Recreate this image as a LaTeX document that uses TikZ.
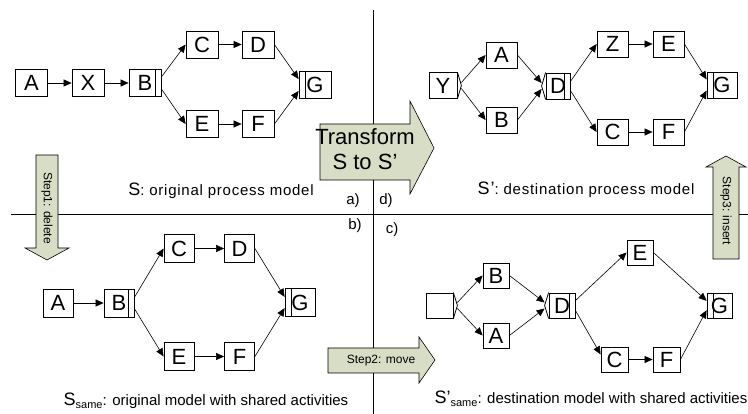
\documentclass[tikz,border=0pt]{standalone}
\usepackage{fontspec}
\setmainfont{Liberation Sans}
\usetikzlibrary{arrows.meta,calc}
\definecolor{stepgreen}{RGB}{216,221,198}

\begin{document}
\begin{tikzpicture}[x=1pt,y=-1pt,
    act/.style={draw,line width=.8pt,minimum width=32pt,minimum height=27pt,inner sep=0pt,font=\fontsize{22}{22}\selectfont},
    andsplit/.style={path picture={\draw[line width=.8pt] ([xshift=-6pt]path picture bounding box.north east) -- ([xshift=-6pt]path picture bounding box.south east);}},
    andjoin/.style={path picture={\draw[line width=.8pt] ([xshift=6pt]path picture bounding box.north west) -- ([xshift=6pt]path picture bounding box.south west);}},
    xorline/.style={line width=.8pt},
    flow/.style={line width=.6pt,-{Triangle[length=8pt,width=7pt]}},
    bigarrow/.style={draw,line width=.6pt,fill=stepgreen},
    caption/.style={font=\fontsize{15}{15}\selectfont},
    spaced/.style={font=\fontsize{15}{15}\selectfont\addfontfeature{LetterSpace=5}},
    steptext/.style={font=\fontsize{12}{12}\selectfont}]
  \useasboundingbox (0,0) rectangle (748,414);
  % quadrants
  \draw[line width=.8pt] (373,10) -- (373,414);
  \draw[line width=.8pt] (11,214) -- (748,214);

  % a) original process model
  \node[act] (a-A) at (31.5,83) {A};
  \node[act] (a-X) at (88,83) {X};
  \node[act,andsplit] (a-B) at (145,83) {B};
  \node[act] (a-C) at (202,44.5) {C};
  \node[act] (a-D) at (258,44.5) {D};
  \node[act] (a-E) at (202,124) {E};
  \node[act] (a-F) at (258,124) {F};
  \node[act,andjoin] (a-G) at (315,85) {G};
  \draw[flow] (a-A) -- (a-X);
  \draw[flow] (a-X) -- (a-B);
  \draw[flow] (a-B.20) -- (a-C.west);
  \draw[flow] (a-B.-20) -- (a-E.west);
  \draw[flow] (a-C) -- (a-D);
  \draw[flow] (a-E) -- (a-F);
  \draw[flow] (a-D.east) -- (a-G.160);
  \draw[flow] (a-F.east) -- (a-G.-160);

  % b) shared activities of S
  \begin{scope}[act/.append style={minimum width=30pt,minimum height=28pt}]
    \node[act] (b-A) at (58,303) {A};
    \node[act,andsplit] (b-B) at (119,303) {B};
    \node[act] (b-C) at (179,248.5) {C};
    \node[act] (b-D) at (239.5,248.5) {D};
    \node[act] (b-E) at (179,356.5) {E};
    \node[act] (b-F) at (239.5,356.5) {F};
    \node[act,andjoin] (b-G) at (300,302.5) {G};
  \end{scope}
  \draw[flow] (b-A) -- (b-B);
  \draw[flow] (b-B.20) -- (b-C.west);
  \draw[flow] (b-B.-20) -- (b-E.west);
  \draw[flow] (b-C) -- (b-D);
  \draw[flow] (b-E) -- (b-F);
  \draw[flow] (b-D.east) -- (b-G.160);
  \draw[flow] (b-F.east) -- (b-G.-160);

  % d) destination process model
  \begin{scope}[act/.append style={minimum width=31pt,minimum height=26pt}]
    \node[act,minimum width=28pt] (d-Y) at (443,85.5) {Y};
    \node[act] (d-A) at (501.5,55) {A};
    \node[act] (d-B) at (501.5,120) {B};
    \node[act,andsplit,minimum width=24pt] (d-D) at (558,86) {D};
    \node[act] (d-Z) at (612.5,44) {Z};
    \node[act] (d-E) at (668.5,44) {E};
    \node[act] (d-C) at (612.5,132) {C};
    \node[act] (d-F) at (668.5,132) {F};
    \node[act,andjoin,minimum width=30pt] (d-G) at (722,85) {G};
  \end{scope}
  \draw[xorline] (d-Y.north east) -- ([xshift=4pt]d-Y.east) coordinate (d-Yx) -- (d-Y.south east);
  \draw[xorline] (d-D.north west) -- ([xshift=-4pt]d-D.west) coordinate (d-Dx) -- (d-D.south west);
  \draw[flow] ($(d-Yx)+(0,-3)$) -- (d-A.west);
  \draw[flow] ($(d-Yx)+(0,3)$) -- (d-B.west);
  \draw[flow] (d-A.east) -- ($(d-Dx)+(0,-3)$);
  \draw[flow] (d-B.east) -- ($(d-Dx)+(0,3)$);
  \draw[flow] (d-D.20) -- (d-Z.west);
  \draw[flow] (d-D.-20) -- (d-C.west);
  \draw[flow] (d-Z) -- (d-E);
  \draw[flow] (d-C) -- (d-F);
  \draw[flow] (d-E.east) -- (d-G.160);
  \draw[flow] (d-F.east) -- (d-G.-160);

  % c) shared activities of S'
  \begin{scope}[act/.append style={minimum width=26pt,minimum height=25pt}]
    \node[act,minimum width=27pt] (c-S) at (439.5,305.5) {};
    \node[act] (c-B) at (496,275.5) {B};
    \node[act] (c-A) at (496,335.5) {A};
    \node[act,andsplit] (c-D) at (562,305.5) {D};
    \node[act] (c-E) at (640,252.5) {E};
    \node[act,minimum width=27pt] (c-C) at (614.5,359.5) {C};
    \node[act,minimum width=27pt] (c-F) at (666.5,359.5) {F};
    \node[act,andjoin,minimum width=25pt] (c-G) at (719.5,305.5) {G};
  \end{scope}
  \draw[xorline] (c-S.north east) -- ([xshift=4pt]c-S.east) coordinate (c-Sx) -- (c-S.south east);
  \draw[xorline] (c-D.north west) -- ([xshift=-4pt]c-D.west) coordinate (c-Dx) -- (c-D.south west);
  \draw[flow] ($(c-Sx)+(0,-3)$) -- (c-B.west);
  \draw[flow] ($(c-Sx)+(0,3)$) -- (c-A.west);
  \draw[flow] (c-B.east) -- ($(c-Dx)+(0,-3)$);
  \draw[flow] (c-A.east) -- ($(c-Dx)+(0,3)$);
  \draw[flow] (c-D.20) -- (c-E.west);
  \draw[flow] (c-D.-20) -- (c-C.160);
  \draw[flow] (c-C) -- (c-F);
  \draw[flow] (c-E.east) -- (c-G.160);
  \draw[flow] (c-F.east) -- (c-G.-160);

  % big arrows
  \draw[bigarrow] (320,124) -- (410,124) -- (410,101) -- (434,148) -- (410,194) -- (410,180) -- (320,180) -- cycle;
  \node[align=center,font=\fontsize{22}{25}\selectfont] (transform) at (365,149) {Transform\\S to S’};
  \draw[bigarrow] (36,155) -- (58,155) -- (58,248) -- (69,248) -- (47,260) -- (25,248) -- (36,248) -- cycle;
  \node[steptext,rotate=-90] (step1) at (47,208) {Step1: delete};
  \draw[bigarrow] (328,348) -- (419,348) -- (419,337) -- (435,360) -- (419,383) -- (419,373) -- (328,373) -- cycle;
  \node[steptext] (step2) at (381,360.5) {Step2: move};
  \draw[bigarrow] (713,259) -- (713,167) -- (706,167) -- (726,156) -- (746,167) -- (739,167) -- (739,259) -- cycle;
  \node[steptext,rotate=-90] (step3) at (726,211) {Step3: insert};

  % labels
  \node[caption] (la) at (353,201) {a)};
  \node[caption] (ld) at (386,201) {d)};
  \node[caption] (lb) at (355,226) {b)};
  \node[caption] (lc) at (392,230) {c)};
  \node[spaced] (capS) at (221,191) {{\fontsize{18}{18}\selectfont S}: original process model};
  \node[spaced] (capSp) at (586,190) {{\fontsize{18}{18}\selectfont S’}: destination process model};
  \node[caption] (capSs) at (206,401) {{\fontsize{18}{18}\selectfont S}\raisebox{-3pt}{\fontsize{11}{11}\selectfont same}: original model with shared activities};
  \node[caption] (capSps) at (591,399) {{\fontsize{18}{18}\selectfont S’}\raisebox{-3pt}{\fontsize{11}{11}\selectfont same}: destination model with shared activities};
\end{tikzpicture}
\end{document}
